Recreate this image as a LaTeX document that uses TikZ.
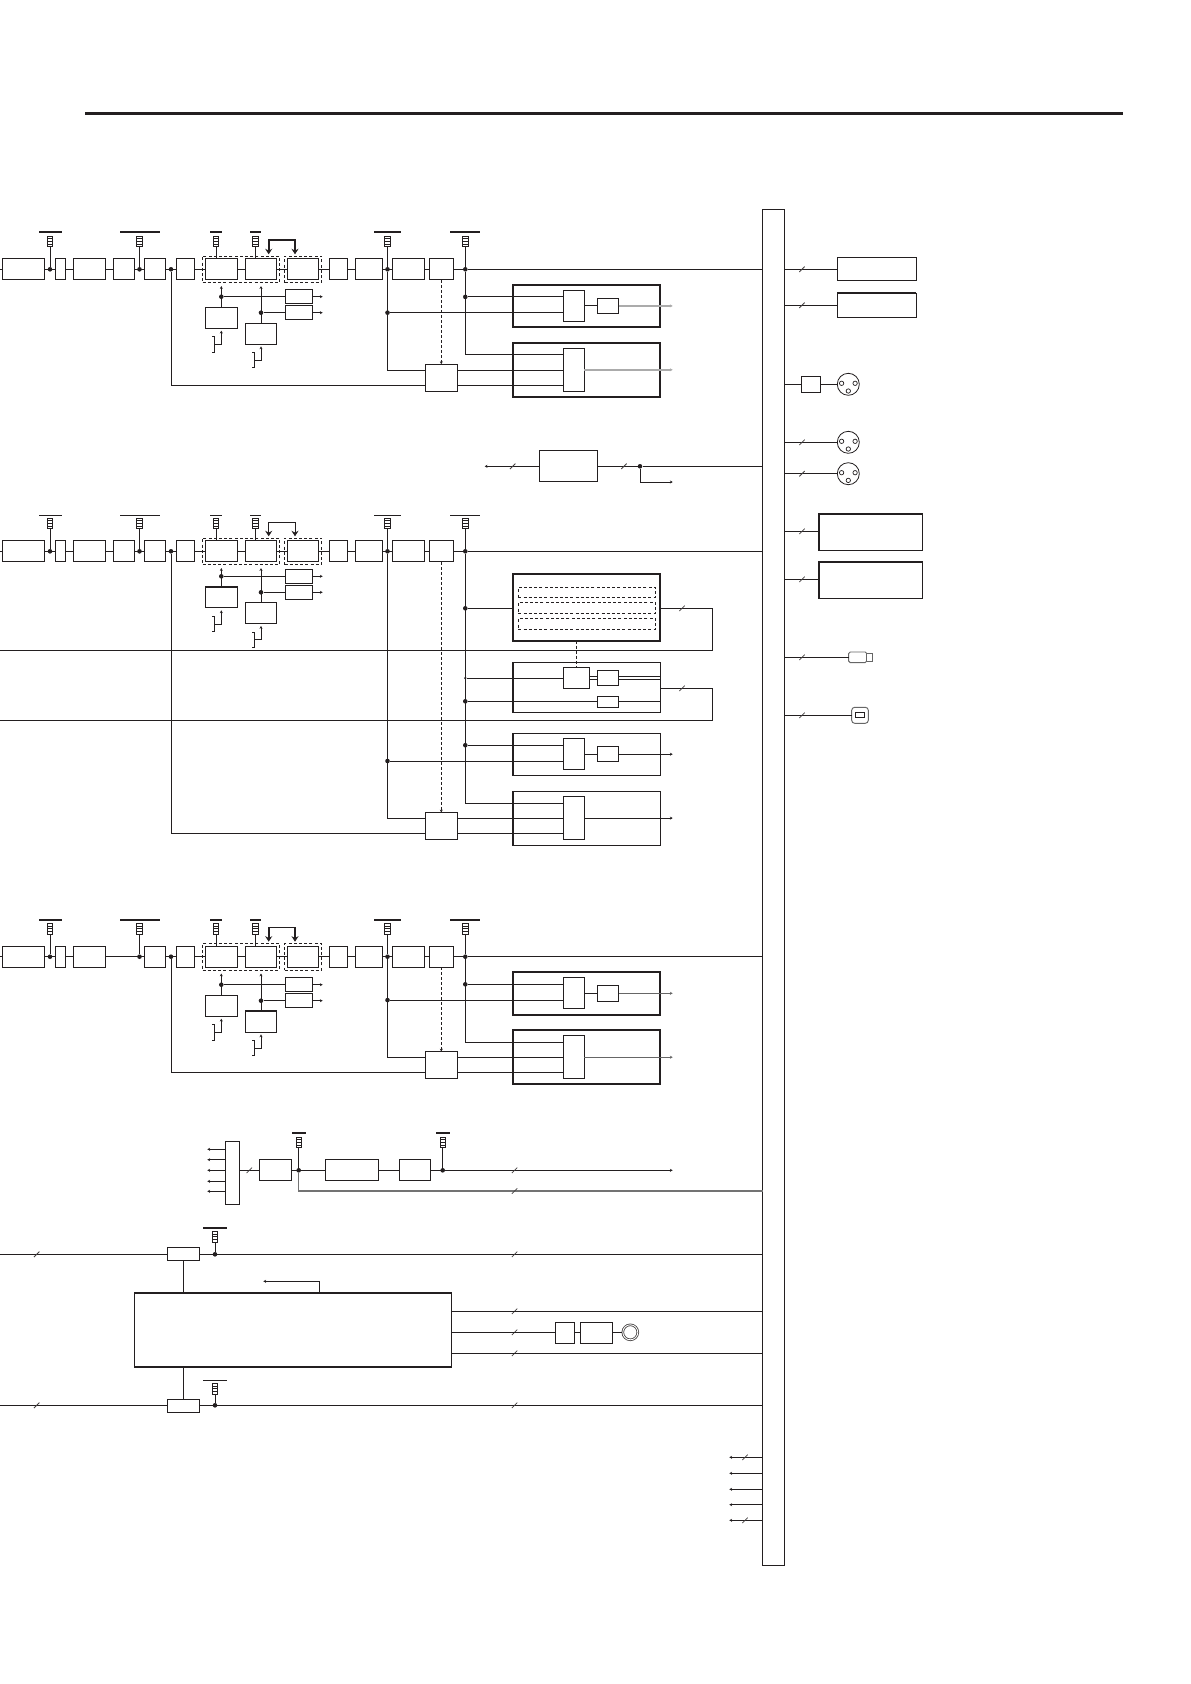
\documentclass[tikz,border=0pt]{standalone}
\usepackage{tikz}
\usetikzlibrary{arrows.meta,positioning,fit,calc,shapes.misc}
\definecolor{ink}{HTML}{231F20}
\tikzset{
  box/.style n args={2}{draw=ink, fill=white, line width=.95pt, inner sep=0pt, outer sep=0pt,
    minimum width=#1pt, minimum height=#2pt},
  wire/.style={draw=ink, line width=.95pt},
  heavy/.style={draw=ink, line width=2pt},
  tipped/.style={wire, -{Stealth[length=2.8pt,width=3pt]}},
  tiprev/.style={wire, {Stealth[length=2.8pt,width=3pt]}-},
  dashwire/.style={wire, dash pattern=on 3pt off 2pt},
  dashbox/.style={draw=ink, line width=.95pt, dash pattern=on 3pt off 2.2pt, inner sep=2.8pt, outer sep=0pt},
  grouphvy/.style={box={147.6}{#1}, line width=1.9pt},
  groupthin/.style={box={147.6}{#1}},
  jump/.style={draw=ink, line width=#1pt, {Stealth[length=5.5pt,width=7pt]}-{Stealth[length=5.5pt,width=7pt]}},
  grayout/.style={draw=black!33, line width=1.5pt},
  darkout/.style={draw=black!60, line width=1.3pt},
  jdot/.style={circle, fill=ink, inner sep=0pt, minimum size=4.6pt},
  bar/.style={fill=ink, inner sep=0pt, outer sep=0pt},
  ladder/.style={draw=ink, fill=white, line width=.8pt, inner sep=0pt, outer sep=0pt,
    minimum width=5.4pt, minimum height=10.6pt, path picture={
      \foreach \k in {.25,.5,.75}{
        \draw[line width=.85pt] ($(path picture bounding box.north west)!\k!(path picture bounding box.south west)$)
          -- ($(path picture bounding box.north east)!\k!(path picture bounding box.south east)$);}}},
  xlr/.style={circle, draw=ink, fill=white, line width=.8pt, inner sep=0pt, outer sep=0pt, minimum size=22pt, path picture={
      \foreach \px/\py in {-6.7/-1,6.8/-1,0/6.7}{
        \draw[line width=.7pt] ($(path picture bounding box.center)+(\px,\py)$) circle (2.2pt);}}},
  slash/.pic={\draw[draw=ink!85, line width=.8pt] (-2.7,2.7) -- (2.7,-2.7);},
}
% tap with its ladder and the bar above it
\newcommand{\meter}[5]{%
  \node[ladder] (#1) at (#2,#3) {};
  \node[bar, minimum width=#4pt, minimum height=#5pt, above=2.8pt of #1] (#1bar) {};
}
% prefix, main y, y of first side dot, bar height, jump width
\newcommand{\channel}[5]{%
  \node[box={42}{21}] (#1a) at (23.3,#2) {};
  \node[box={10}{21}, right=11pt of #1a] (#1b) {};
  \node[box={32}{21}, right=8pt of #1b] (#1c) {};
  \node[box={21}{21}, right=39pt of #1c] (#1e) {};
  \node[box={18.4}{21}, right=11pt of #1e] (#1f) {};
  \node[box={32}{21}, right=10.6pt of #1f] (#1g) {};
  \node[box={31.4}{21}, right=8pt of #1g] (#1h) {};
  \node[box={31.4}{21}, right=10.6pt of #1h] (#1i) {};
  \node[box={18}{21}, right=10.6pt of #1i] (#1j) {};
  \node[box={27.4}{21}, right=8pt of #1j] (#1k) {};
  \node[box={32}{21}, right=9.6pt of #1k] (#1m) {};
  \node[box={24}{21}, right=5pt of #1m] (#1n) {};
  \node[dashbox, fit=(#1g)(#1h)] (#1dl) {};
  \node[dashbox, fit=(#1i)] (#1dr) {};
  \coordinate (#1in) at (0,#2);
  \draw[wire] (#1in) -- (#1a);
  \foreach \from/\to in {a/b,b/c,c/e,e/f,f/g,g/h,h/i,i/j,j/k,k/m,m/n}
    \draw[wire] (#1\from) -- (#1\to);
  \foreach \k/\mx/\mw in {1/50/23,2/139.5/40,3/216/11.4,4/255.5/11.3,5/387.5/27,6/465.3/30}
    {\meter{#1lad\k}{\mx}{#2-27.8}{\mw}{#4}}
  \foreach \k/\dx in {1/50,2/139.5,3/171,5/387.5,6/465.3}
    \node[jdot] (#1dot\k) at (\dx,#2) {};
  \foreach \k in {1,2,5,6}
    \draw[wire] (#1lad\k) -- (#1dot\k);
  \draw[wire] (#1lad3) -- (#1lad3 |- #1g.north);
  \draw[wire] (#1lad4) -- (#1lad4 |- #1h.north);
  \draw[wire] (#1n) -- (#1dot6);
  \draw[wire] (#1dot6) -- (#1dot6 -| bus.west);
  \coordinate (#1jl) at (268.7,#2-15);
  \coordinate (#1jr) at (295,#2-15);
  \draw[jump=#5] (#1jl) -- ++(0,-14.3) -| (#1jr);
  % side boxes under the dashed groups
  \node[jdot] (#1sdl) at (221.3,#3) {};
  \node[jdot] (#1sdr) at (261,#3+16) {};
  \node[box={27.4}{14}] (#1sa) at (299,#3) {};
  \node[box={27.4}{14}] (#1sb) at (299,#3+16) {};
  \node[box={32}{21}] (#1sl) at (221.3,#3+21.1) {};
  \node[box={31.4}{21}] (#1sr) at (261,#3+36.8) {};
  \draw[tipped, shorten >=3.5pt] (#1sl) -- (#1sl |- #1dl.south);
  \draw[tipped, shorten >=3.5pt] (#1sr) -- (#1sr |- #1dl.south);
  \draw[wire] (#1sdl) -- (#1sa);
  \draw[wire] (#1sdr) -- (#1sb);
  \coordinate (#1soa) at (322.7,#3);
  \coordinate (#1sob) at (322.7,#3+16);
  \draw[tipped] (#1sa) -- (#1soa);
  \draw[tipped] (#1sb) -- (#1sob);
  \coordinate (#1brl) at (214.7,#3+47.7);
  \coordinate (#1brr) at (254.7,#3+63.3);
  \draw[tipped, shorten >=2.4pt] (#1brl) -| (#1sl.south);
  \draw[tipped, shorten >=2.4pt] (#1brr) -| (#1sr.south);
  \draw[wire] (#1brl) ++(-2.4,-7.7) -- ++(2.4,0) -- ++(0,15.4) -- ++(-2.4,0);
  \draw[wire] (#1brr) ++(-2.4,-7.5) -- ++(2.4,0) -- ++(0,15) -- ++(-2.4,0);
}
% prefix, base y, output style, group style
\newcommand{\outpair}[4]{%
  \node[#4={42.6}] (#1ga) at (586.5,#2+36.7) {};
  \node[#4={54}] (#1gb) at (586.5,#2+100.6) {};
  \node[box={21}{31}] (#1qa) at (573.8,#2+36.6) {};
  \node[box={21.4}{15.5}] (#1ra) at (608,#2+36.6) {};
  \node[box={21}{43}] (#1qb) at (573.8,#2+100.5) {};
  \node[box={32}{27.4}] (#1p) at (441.3,#2+108.5) {};
  \node[jdot] (#1dot7) at (465.3,#2+27.6) {};
  \node[jdot] (#1dot8) at (387.5,#2+43.4) {};
  \coordinate (#1oa) at (672.7,#2+36.6);
  \coordinate (#1ob) at (672.7,#2+100.5);
  \draw[wire] (#1dot7) -- (#1dot7 -| #1qa.west);
  \draw[wire] (#1dot8) -- (#1dot8 -| #1qa.west);
  \draw[wire] (#1qa) -- (#1ra);
  \draw[tipped, #3] (#1ra) -- (#1oa);
  \draw[tipped, #3] (#1qb) -- (#1ob);
  \draw[wire] (#1dot6) |- ([yshift=15pt]#1qb.west);
  \draw[wire] (#1dot5) |- ([yshift=7.3pt]#1p.west);
  \draw[wire] (#1dot3) |- ([yshift=-7.3pt]#1p.west);
  \draw[wire] ([yshift=7.3pt]#1p.east) -- ([yshift=7.3pt]#1p.east -| #1qb.west);
  \draw[wire] ([yshift=-7.3pt]#1p.east) -- ([yshift=-7.3pt]#1p.east -| #1qb.west);
  \draw[dashwire, -{Stealth[length=2.8pt,width=3pt]}] (#1n) -- (#1p);
}
\begin{document}
\begin{tikzpicture}[x=1pt,y=-1pt]
\useasboundingbox (0,0) rectangle (1191,1684);

\node[bar, minimum width=1038pt, minimum height=3pt] (headrule) at (604,113) {};
\node[box={21.6}{1356}] (bus) at (773.5,887.3) {};

% ---- first channel ----------------------------------------------------
\channel{a}{269.3}{296.7}{2}{1.7}
\node[box={21.4}{21}, right=8pt of ac] (ad) {};
\outpair{a}{269.3}{grayout}{grouphvy}

% ---- feed between first and second channel ----------------------------
\node[box={58}{31}] (ua) at (568.3,466.3) {};
\coordinate (uin) at (484.7,466.3);
\node[jdot] (udot) at (640,466.3) {};
\coordinate (uout) at (672.7,482);
\draw[tiprev] (uin) -- (ua);
\draw[wire] (ua) -- (udot);
\draw[wire] (udot) -- (udot -| bus.west);
\draw[tipped] (udot) |- (uout);
\pic at (512.7,466.3) {slash};
\pic at (624,466.3) {slash};

% ---- second channel ---------------------------------------------------
\channel{b}{551.3}{576.3}{.9}{1}
\node[box={21.4}{21}, right=8pt of bc] (bd) {};
\draw[heavy] (bsl.north west) -- (bsl.north east);
\outpair{b}{717.6}{wire}{groupthin}

\node[grouphvy={66.4}] (bha) at (586.5,607.5) {};
\foreach \k/\hy/\hh in {1/592.3/10,2/607.8/11,3/623.8/11}
  \node[box={137}{\hh}, dash pattern=on 3pt off 2.2pt] (bda\k) at (586.8,\hy) {};
\node[groupthin={50}] (bhb) at (586.5,687.3) {};
\node[box={26}{21}] (bu) at (576.3,677.8) {};
\node[box={21.4}{15}] (bv) at (608,677.8) {};
\node[box={21.4}{11}] (bw) at (608,701.8) {};
\node[jdot] (bdota) at (465.3,608.3) {};
\node[jdot, minimum size=2.6pt] (bdotb) at (465.3,678) {};
\node[jdot] (bdotc) at (465.3,701.3) {};
\coordinate (bfa) at (0,650.3);
\coordinate (bfb) at (0,720.3);
\coordinate (bca) at (712.3,608.3);
\coordinate (bcb) at (712.3,688.3);
\draw[wire] (bdota) -- (bdota -| bha.west);
\draw[wire] (bdota -| bha.east) -- (bca) |- (bfa);
\draw[wire] (bcb -| bhb.east) -- (bcb) |- (bfb);
\draw[wire] (bdotb) -- (bdotb -| bu.west);
\draw[wire] (bdotc) -- (bdotc -| bw.west);
\draw[wire] (bdotc -| bw.east) -- (bdotc -| bhb.east);
\foreach \dy in {1.2pt,-1.4pt} {
  \draw[wire] ([yshift=\dy]bu.east) -- ([yshift=\dy]bv.west);
  \draw[wire] ([yshift=\dy]bv.east) -- ([yshift=\dy]bv.east -| bhb.east);
}
\draw[dashwire] (bu |- bha.south) -- (bu.north);
\pic at (682,608.3) {slash};
\pic at (682,688.3) {slash};
\foreach \g in {bhb,bga,bgb}
  \draw[heavy, line width=1.6pt] (\g.north west) -- (\g.south west);

% ---- third channel ----------------------------------------------------
\channel{c}{956.7}{984.7}{2}{1.7}
\draw[heavy] (csr.north west) -- (csr.north east);
\outpair{c}{956.7}{darkout}{grouphvy}

% ---- source mux -------------------------------------------------------
\node[box={14.4}{63}] (sx) at (232.5,1172.8) {};
\foreach \k/\sy in {1/1149.3,2/1159.7,3/1170.3,4/1181.3,5/1191.3} {
  \coordinate (sin\k) at (207.3,\sy);
  \draw[tiprev] (sin\k) -- (sin\k -| sx.west);
}
\node[box={32}{21}] (sa) at (275.3,1170.3) {};
\node[box={53}{21}] (sb) at (351.8,1170.3) {};
\node[box={31}{21}] (sc) at (414.8,1170.3) {};
\meter{slada}{298.7}{1142.5}{14}{2}
\meter{sladb}{442.7}{1142.5}{14.3}{2}
\node[jdot] (sdota) at (298.7,1170.3) {};
\node[jdot] (sdotb) at (442.7,1170.3) {};
\coordinate (sout) at (672.7,1170.3);
\coordinate (slow) at (298.7,1191);
\draw[wire] (sin3 -| sx.east) -- (sa);
\draw[wire] (sa) -- (sb);
\draw[wire] (sb) -- (sc);
\draw[wire] (slada) -- (sdota);
\draw[wire] (sladb) -- (sdotb);
\draw[tipped] (sc) -- (sout);
\draw[draw=black!55, line width=1.1pt] (sdota) -- (slow) -- (slow -| bus.west);
\pic at (249.3,1170.3) {slash};
\pic at (514.6,1170.3) {slash};
\pic at (514.6,1191) {slash};

% ---- processor --------------------------------------------------------
\node[box={317.4}{74.3}] (cpu) at (293,1329.8) {};
\draw[heavy] (cpu.north west) -- (cpu.north east);
\draw[heavy] (cpu.south west) -- (cpu.south east);
\node[box={32}{13}] (mema) at (183.3,1253.8) {};
\node[box={32}{13}] (memb) at (183.3,1405.8) {};
\meter{mladta}{215}{1236.8}{23.7}{2}
\meter{mladb}{215}{1388.8}{23.7}{.9}
\node[jdot] (mdota) at (215,1254.3) {};
\node[jdot] (mdotb) at (215,1405.3) {};
\coordinate (mina) at (0,1254.3);
\coordinate (minb) at (0,1405.3);
\coordinate (cstub) at (263.3,1281.3);
\draw[wire] (mina) -- (mina -| mema.west);
\draw[wire] (minb) -- (minb -| memb.west);
\draw[wire] (mema) -- (cpu.north -| mema);
\draw[wire] (memb) -- (cpu.south -| memb);
\draw[wire] (mladta) -- (mdota);
\draw[wire] (mladb) -- (mdotb);
\draw[wire] (mdota -| mema.east) -- (mdota -| bus.west);
\draw[wire] (mdotb -| memb.east) -- (mdotb -| bus.west);
\draw[tiprev] (cstub) -| (319.3,1292);
\foreach \qx/\qy in {36.7/1254.3,514.6/1254.3,36.7/1405.3,514.6/1405.3,514.6/1311.3,514.6/1332.3,514.6/1353.3}
  \pic at (\qx,\qy) {slash};
\node[box={19.4}{21}] (da) at (565,1332.8) {};
\node[box={32.4}{21}] (db) at (596.5,1332.8) {};
\node[circle, draw=ink!85, line width=.8pt, double=white, double distance=.9pt, inner sep=0pt, minimum size=15pt] (lamp) at (630.3,1332.3) {};
\coordinate (cta) at (451.7,1311.3);
\coordinate (ctb) at (451.7,1332.3);
\coordinate (ctc) at (451.7,1353.3);
\draw[wire] (cta) -- (cta -| bus.west);
\draw[wire] (ctc) -- (ctc -| bus.west);
\draw[wire] (ctb) -- (ctb -| da.west);
\draw[wire] (ctb -| da.east) -- (ctb -| db.west);
\draw[wire] (ctb -| db.east) -- (ctb -| lamp.west);

% ---- bus stubs --------------------------------------------------------
\foreach \k/\ty in {1/1457.3,2/1473.3,3/1489.3,4/1504.7,5/1520.3} {
  \coordinate (st\k) at (729.3,\ty);
  \draw[tiprev] (st\k) -- (st\k -| bus.west);
}
\pic at (745,1457.3) {slash};
\pic at (745,1520.3) {slash};

% ---- right side -------------------------------------------------------
\node[box={79}{23}] (ra) at (876.8,268.8) {};
\node[box={79}{24}] (rb) at (876.8,305.3) {};
\draw[heavy] (rb.north west) -- (rb.north east);
\node[box={19.4}{16}] (rc) at (811,384.3) {};
\node[xlr] (xa) at (848.3,384.3) {};
\node[xlr] (xb) at (848.3,442.3) {};
\node[xlr] (xc) at (848.3,473.7) {};
\node[box={103.6}{36.6}, line width=1.6pt] (rd) at (870.5,532) {};
\node[box={103.6}{36.6}, line width=1.6pt] (re) at (870.5,580) {};
\node[box={18}{10.6}, rounded corners=1.5pt, draw=black!60] (rf) at (857.7,657.3) {};
\node[box={5.6}{7.6}, right=0pt of rf, draw=black!60] (rfb) {};
\node[box={16.6}{16}, rounded corners=3pt, draw=black!60] (rg) at (860,715.3) {};
\node[box={8.6}{5}] (rh) at (859.7,714.8) {};
\foreach \e/\ty in {ra/269.3,rb/305.3,xb/442.3,xc/473.7,rd/531.3,re/579.3,rf/657.3,rg/715.3} {
  \coordinate (bt\e) at (802,\ty);
  \draw[wire] (bt\e -| bus.east) -- (bt\e -| \e.west);
  \pic at (802,\ty) {slash};
}
\draw[wire] (rc -| bus.east) -- (rc);
\draw[wire] (rc) -- (xa);

\end{tikzpicture}
\end{document}
